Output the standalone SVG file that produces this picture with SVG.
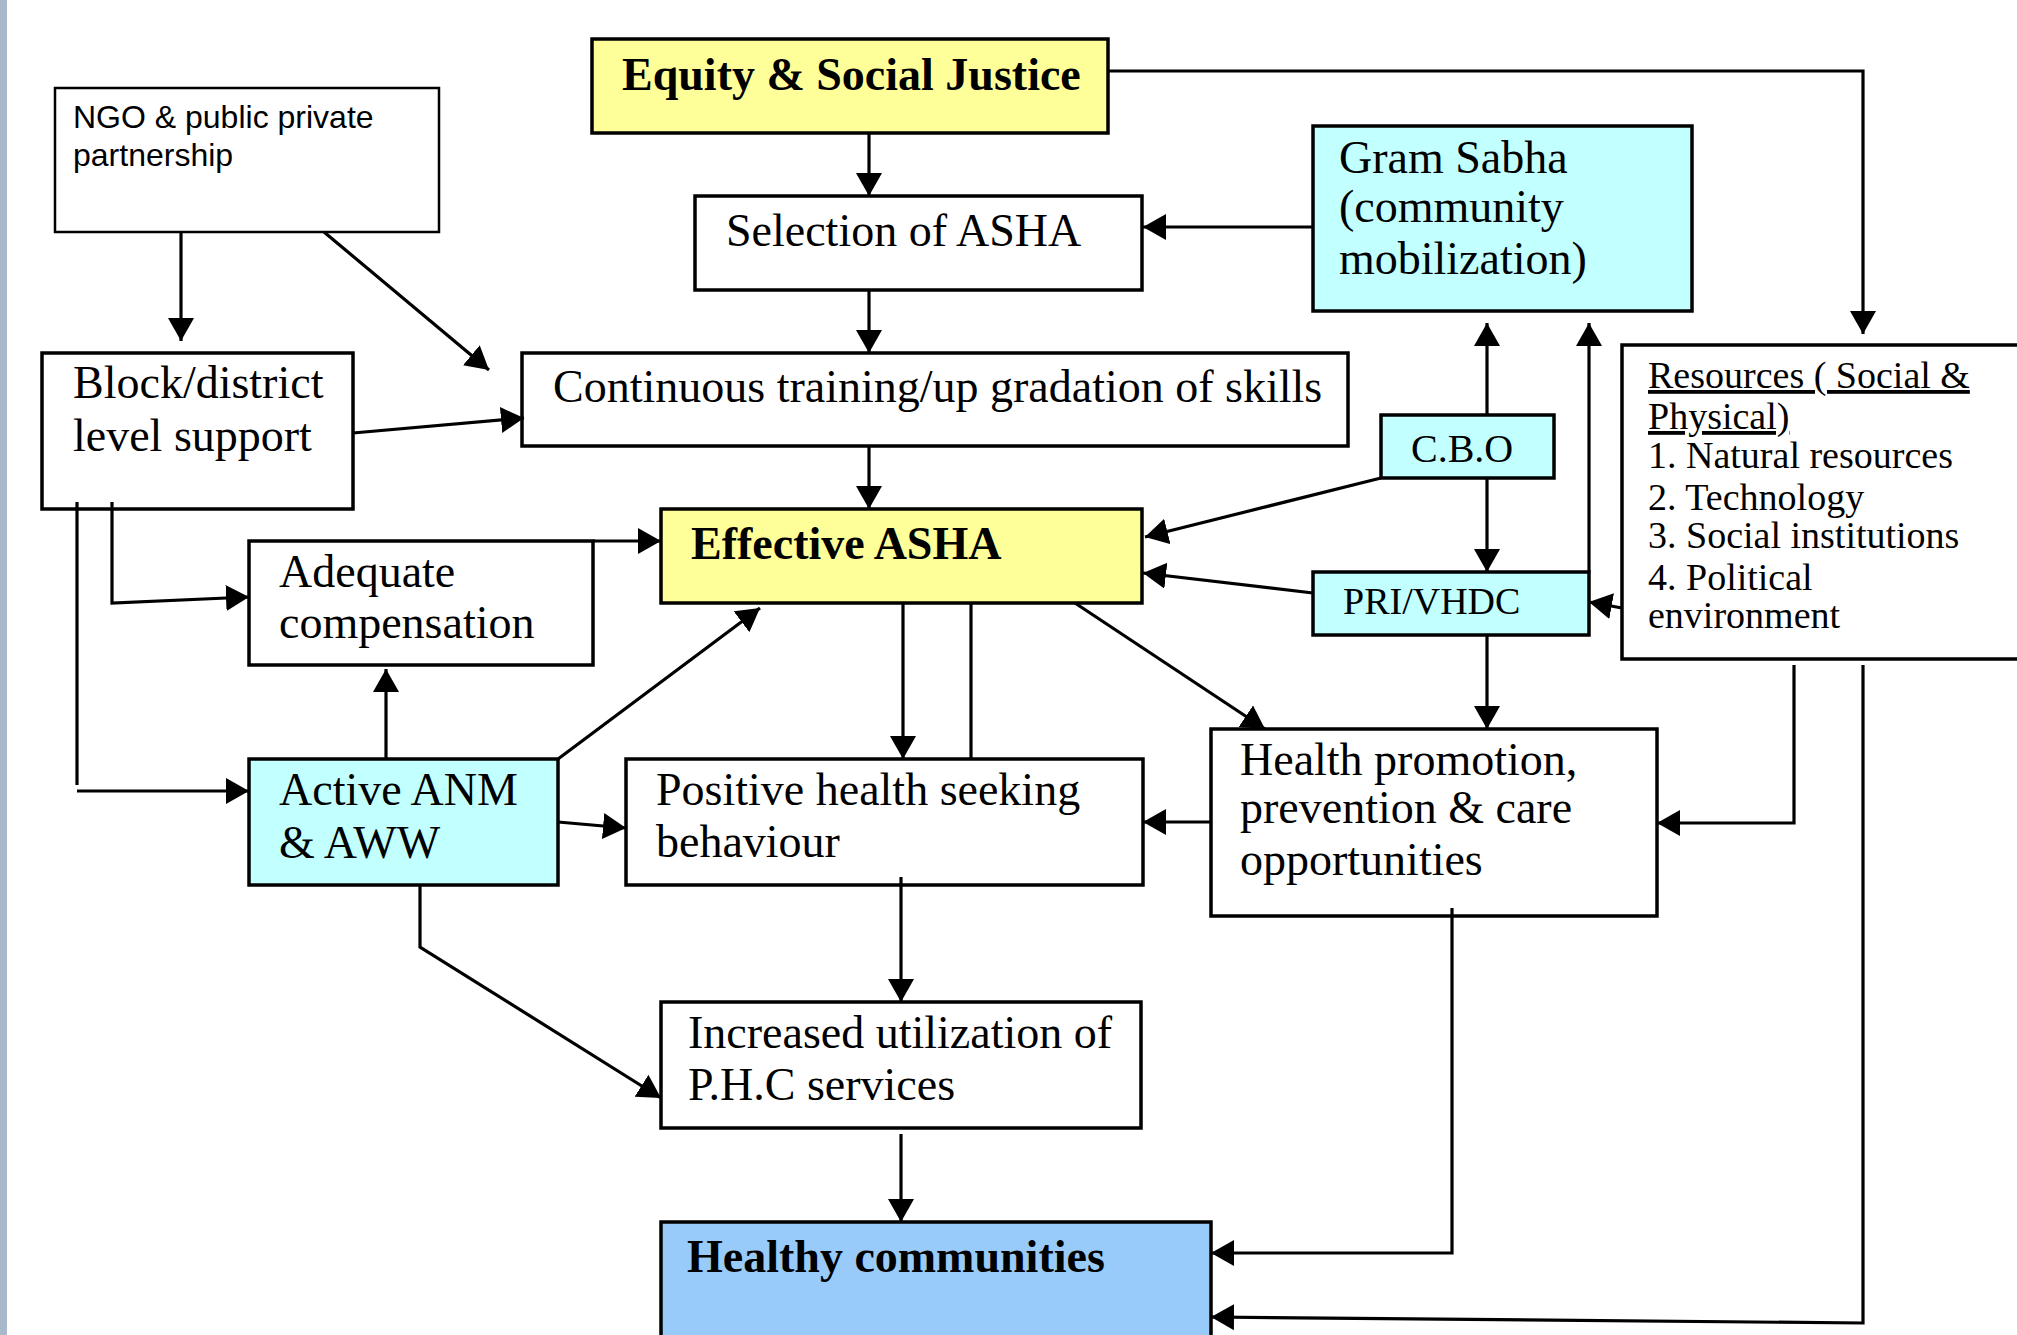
<svg xmlns="http://www.w3.org/2000/svg" width="2017" height="1335" viewBox="0 0 2017 1335">
<defs>
<style>
.box{stroke:#000;stroke-width:3.5}
.w{fill:#fff}
.y{fill:#ffff99}
.c{fill:#c2ffff}
.b{fill:#98cbfa}
.t{font-family:"Liberation Serif","Times New Roman",serif;font-size:46px;fill:#000}
.bd{font-weight:bold}
.s{font-family:"Liberation Sans",Arial,sans-serif;font-size:32px;fill:#000}
.m{font-size:38px}
.cn path{fill:none;stroke:#000;stroke-width:3.2}
.cn path.a{marker-end:url(#ah)}
</style>
<marker id="ah" markerUnits="userSpaceOnUse" markerWidth="28" markerHeight="28" refX="23" refY="13" orient="auto" viewBox="0 0 28 28">
<path d="M0,0 L23,13 L0,26 z" fill="#000"/>
</marker>
</defs>
<rect x="0" y="0" width="2017" height="1335" fill="#fff"/>
<rect x="0" y="0" width="7" height="1335" fill="#a8b9cb"/>

<g id="n-ngo"><rect class="box w" x="55" y="88" width="384" height="144" style="stroke-width:2.5"/>
<text class="s" x="73" y="128">NGO &amp; public private</text><text class="s" x="73" y="166">partnership</text></g>
<g id="n-block"><rect class="box w" x="42" y="353" width="311" height="156"/>
<text class="t" x="73" y="398">Block/district</text><text class="t" x="73" y="451">level support</text></g>
<g id="n-equity"><rect class="box y" x="592" y="39" width="516" height="94"/>
<text class="t bd" x="622" y="90">Equity &amp; Social Justice</text></g>
<g id="n-selection"><rect class="box w" x="695" y="196" width="447" height="94"/>
<text class="t" x="726" y="246">Selection of ASHA</text></g>
<g id="n-training"><rect class="box w" x="522" y="353" width="826" height="93"/>
<text class="t" x="553" y="402">Continuous training/up gradation of skills</text></g>
<g id="n-gram"><rect class="box c" x="1313" y="126" width="379" height="185"/>
<text class="t" x="1339" y="173">Gram Sabha</text><text class="t" x="1339" y="222">(community</text><text class="t" x="1339" y="274">mobilization)</text></g>
<g id="n-resources"><rect class="box w" x="1622" y="345" width="420" height="314"/>
<text class="t m" x="1648" y="388" text-decoration="underline">Resources ( Social &amp;</text>
<text class="t m" x="1648" y="429" text-decoration="underline">Physical)</text>
<text class="t m" x="1648" y="468">1. Natural resources</text>
<text class="t m" x="1648" y="510">2. Technology</text>
<text class="t m" x="1648" y="548">3. Social institutions</text>
<text class="t m" x="1648" y="590">4. Political</text>
<text class="t m" x="1648" y="628">environment</text></g>
<g id="n-cbo"><rect class="box c" x="1381" y="415" width="173" height="63"/>
<text class="t" x="1411" y="462" style="font-size:40px">C.B.O</text></g>
<g id="n-pri"><rect class="box c" x="1313" y="572" width="276" height="63"/>
<text class="t m" x="1343" y="614">PRI/VHDC</text></g>
<g id="n-effective"><rect class="box y" x="661" y="509" width="481" height="94"/>
<text class="t bd" x="691" y="559">Effective ASHA</text></g>
<g id="n-adequate"><rect class="box w" x="249" y="541" width="344" height="124"/>
<text class="t" x="279" y="587">Adequate</text><text class="t" x="279" y="638">compensation</text></g>
<g id="n-anm"><rect class="box c" x="249" y="759" width="309" height="126"/>
<text class="t" x="279" y="805">Active ANM</text><text class="t" x="279" y="858">&amp; AWW</text></g>
<g id="n-positive"><rect class="box w" x="626" y="759" width="517" height="126"/>
<text class="t" x="656" y="805">Positive health seeking</text><text class="t" x="656" y="857">behaviour</text></g>
<g id="n-health"><rect class="box w" x="1211" y="729" width="446" height="187"/>
<text class="t" x="1240" y="775">Health promotion,</text><text class="t" x="1240" y="823">prevention &amp; care</text><text class="t" x="1240" y="875">opportunities</text></g>
<g id="n-increased"><rect class="box w" x="661" y="1002" width="480" height="126"/>
<text class="t" x="688" y="1048">Increased utilization of</text><text class="t" x="688" y="1100">P.H.C services</text></g>
<g id="n-healthy"><rect class="box b" x="661" y="1222" width="550" height="140"/>
<text class="t bd" x="687" y="1272">Healthy communities</text></g>

<g id="connectors" class="cn">
<path class="a" d="M869,134 V196"/>
<path class="a" d="M869,290 V353"/>
<path class="a" d="M869,446 V509"/>
<path class="a" d="M1313,227 H1143"/>
<path class="a" d="M1108,71 H1863 V334"/>
<path class="a" d="M181,232 V341"/>
<path class="a" d="M324,232 L489,370"/>
<path class="a" d="M353,433 L524,418"/>
<path class="a" d="M112,502 V603 L249,597"/>
<path d="M77,502 V785"/>
<path class="a" d="M77,791 H249"/>
<path class="a" d="M593,541 H661"/>
<path class="a" d="M386,759 V669"/>
<path class="a" d="M558,759 L760,608"/>
<path class="a" d="M558,822 L626,828"/>
<path class="a" d="M420,885 V947 L661,1098"/>
<path class="a" d="M903,603 V759"/>
<path d="M971,759 V603"/>
<path class="a" d="M1075,603 L1265,729"/>
<path class="a" d="M1381,478 L1145,537"/>
<path class="a" d="M1313,593 L1143,573"/>
<path class="a" d="M1487,415 V323"/>
<path class="a" d="M1589,572 V323"/>
<path class="a" d="M1487,478 V572"/>
<path class="a" d="M1622,608 L1589,602"/>
<path class="a" d="M1487,635 V729"/>
<path class="a" d="M1211,822 H1143"/>
<path class="a" d="M1794,665 V823 H1657"/>
<path class="a" d="M1863,665 V1323 L1211,1317"/>
<path class="a" d="M1452,908 V1253 H1211"/>
<path class="a" d="M901,877 V1002"/>
<path class="a" d="M901,1134 V1222"/>
</g>
</svg>
